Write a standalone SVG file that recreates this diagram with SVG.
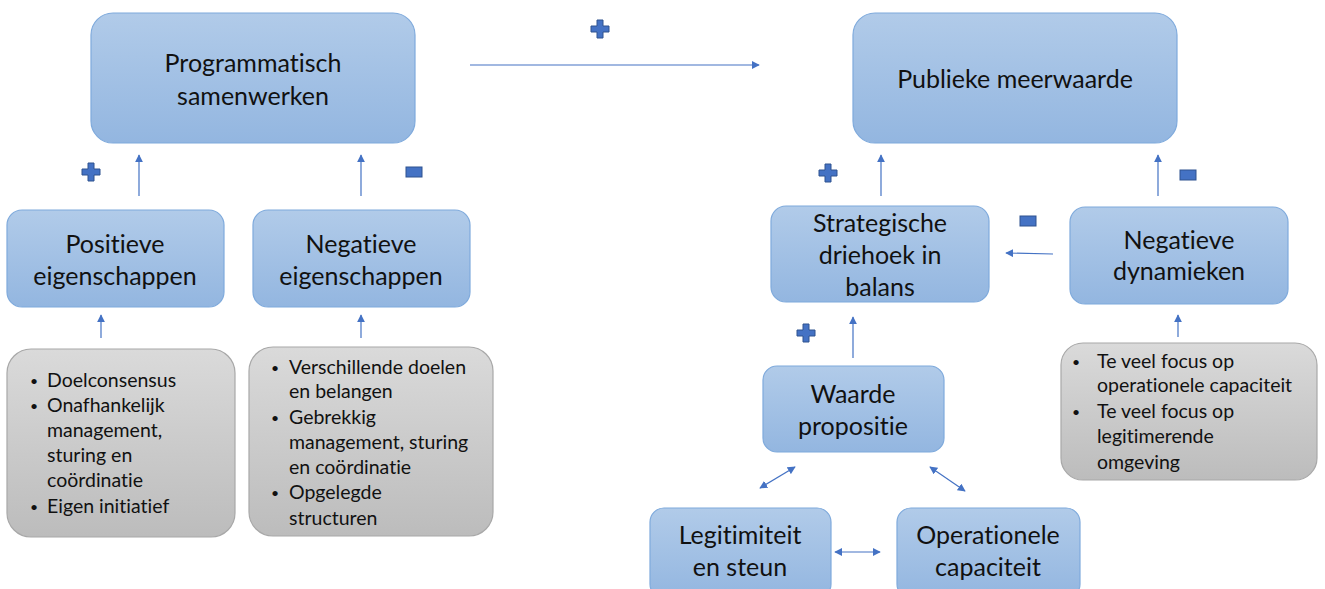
<svg xmlns="http://www.w3.org/2000/svg" width="1325" height="589" viewBox="0 0 1325 589">
<defs>
<linearGradient id="gb" x1="0" y1="0" x2="0" y2="1"><stop offset="0" stop-color="#b1cbe9"/><stop offset="1" stop-color="#93b6e0"/></linearGradient>
<linearGradient id="gg" x1="0" y1="0" x2="0" y2="1"><stop offset="0" stop-color="#dadada"/><stop offset="1" stop-color="#bcbcbc"/></linearGradient>
<marker id="ah" viewBox="0 0 10 10" refX="9" refY="5" markerWidth="8" markerHeight="8" markerUnits="userSpaceOnUse" orient="auto-start-reverse"><path d="M0,0 L10,5 L0,10 z" fill="#4472c4"/></marker>
<path id="plus" d="M-3,-9 h6 v6 h6 v6 h-6 v6 h-6 v-6 h-6 v-6 h6 z"/>
</defs>
<style>
.bn rect{fill:url(#gb);stroke:#7faadc;stroke-width:1.2}
.gn rect{fill:url(#gg);stroke:#a8a8a8;stroke-width:1.2}
text{font-family:Lato,"Liberation Sans",sans-serif;fill:#111;font-variant-ligatures:none}
.t{font-size:25px;text-anchor:middle}
.b{font-size:19.5px}
.u{font-size:14px}
.c line{stroke:#4472c4;stroke-width:1.2;marker-end:url(#ah)}
.c line.d{marker-start:url(#ah)}
.s{fill:#4472c4;stroke:#2f528f;stroke-width:1}
</style>
<rect width="1325" height="589" fill="#fff"/>

<g id="n-prog" class="bn"><rect x="91" y="13" width="324" height="130" rx="22"/><text class="t" x="253" y="72">Programmatisch</text><text class="t" x="253" y="105">samenwerken</text></g>
<g id="n-pub" class="bn"><rect x="853" y="13" width="324" height="130" rx="22"/><text class="t" x="1015" y="88">Publieke meerwaarde</text></g>
<g id="n-pos" class="bn"><rect x="7" y="210" width="217" height="97" rx="15"/><text class="t" x="115" y="253">Positieve</text><text class="t" x="115" y="285">eigenschappen</text></g>
<g id="n-neg" class="bn"><rect x="253" y="210" width="217" height="97" rx="15"/><text class="t" x="361" y="253">Negatieve</text><text class="t" x="361" y="285">eigenschappen</text></g>
<g id="n-str" class="bn"><rect x="771" y="206" width="218" height="96" rx="15"/><text class="t" x="880" y="232">Strategische</text><text class="t" x="880" y="264">driehoek in</text><text class="t" x="880" y="296">balans</text></g>
<g id="n-dyn" class="bn"><rect x="1070" y="207" width="218" height="97" rx="15"/><text class="t" x="1179" y="249">Negatieve</text><text class="t" x="1179" y="280">dynamieken</text></g>
<g id="n-waa" class="bn"><rect x="763" y="366" width="181" height="86" rx="14"/><text class="t" x="853" y="403">Waarde</text><text class="t" x="853" y="435">propositie</text></g>
<g id="n-leg" class="bn"><rect x="650" y="508" width="181" height="90" rx="14"/><text class="t" x="740" y="544">Legitimiteit</text><text class="t" x="740" y="576">en steun</text></g>
<g id="n-ope" class="bn"><rect x="897" y="508" width="183" height="90" rx="14"/><text class="t" x="988" y="544">Operationele</text><text class="t" x="988" y="576">capaciteit</text></g>

<g id="n-list1" class="gn"><rect x="7" y="349" width="228" height="188" rx="24"/>
<text class="b"><tspan class="u" x="30" y="386">•</tspan><tspan x="47" y="387">Doelconsensus</tspan><tspan class="u" x="30" y="411">•</tspan><tspan x="47" y="412">Onafhankelijk</tspan><tspan x="47" y="437">management,</tspan><tspan x="47" y="462">sturing en</tspan><tspan x="47" y="487">coördinatie</tspan><tspan class="u" x="30" y="512">•</tspan><tspan x="47" y="513">Eigen initiatief</tspan></text></g>
<g id="n-list2" class="gn"><rect x="249" y="347" width="244" height="189" rx="24"/>
<text class="b"><tspan class="u" x="271" y="373">•</tspan><tspan x="289" y="374">Verschillende doelen</tspan><tspan x="289" y="398">en belangen</tspan><tspan class="u" x="271" y="423">•</tspan><tspan x="289" y="424">Gebrekkig</tspan><tspan x="289" y="449">management, sturing</tspan><tspan x="289" y="474">en coördinatie</tspan><tspan class="u" x="271" y="498">•</tspan><tspan x="289" y="499">Opgelegde</tspan><tspan x="289" y="525">structuren</tspan></text></g>
<g id="n-list3" class="gn"><rect x="1061" y="343" width="256" height="137" rx="22"/>
<text class="b"><tspan class="u" x="1072" y="367">•</tspan><tspan x="1097" y="368">Te veel focus op</tspan><tspan x="1097" y="392">operationele capaciteit</tspan><tspan class="u" x="1072" y="417">•</tspan><tspan x="1097" y="418">Te veel focus op</tspan><tspan x="1097" y="443">legitimerende</tspan><tspan x="1097" y="469">omgeving</tspan></text></g>

<g id="connectors" class="c">
<line x1="470" y1="65" x2="759" y2="65"/>
<line x1="139" y1="196" x2="139" y2="155"/>
<line x1="361" y1="196" x2="361" y2="155"/>
<line x1="101" y1="338" x2="101" y2="315"/>
<line x1="361" y1="338" x2="361" y2="315"/>
<line x1="881" y1="196" x2="881" y2="155"/>
<line x1="1158" y1="196" x2="1158" y2="155"/>
<line x1="1053" y1="254" x2="1006" y2="253"/>
<line x1="853" y1="358" x2="853" y2="317"/>
<line x1="1178" y1="337" x2="1178" y2="315"/>
<line class="d" x1="760" y1="488" x2="795" y2="467"/>
<line class="d" x1="930" y1="467" x2="965" y2="491"/>
<line class="d" x1="835" y1="552" x2="880" y2="552"/>
</g>

<g id="signs">
<use href="#plus" class="s" x="600" y="29"/>
<use href="#plus" class="s" x="91" y="172"/>
<use href="#plus" class="s" x="828" y="173"/>
<use href="#plus" class="s" x="806" y="333"/>
<rect class="s" x="406" y="167" width="16" height="10"/>
<rect class="s" x="1180" y="170" width="16" height="10"/>
<rect class="s" x="1020" y="216" width="16" height="10"/>
</g>
</svg>
